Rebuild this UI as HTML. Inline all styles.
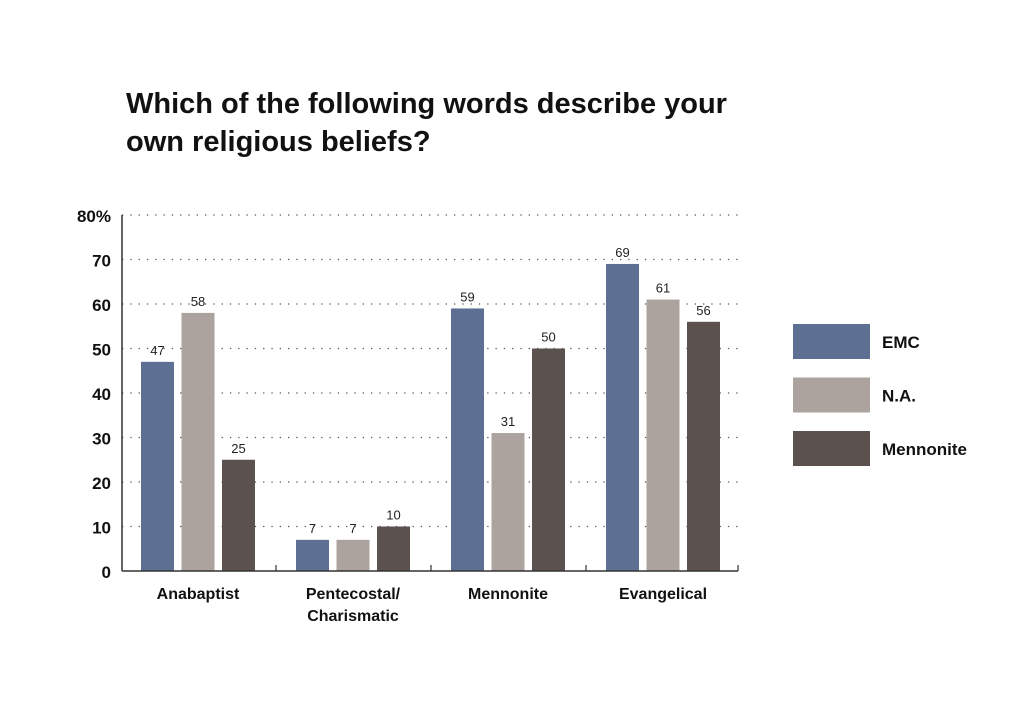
<!DOCTYPE html>
<html><head><meta charset="utf-8"><style>
body{margin:0;background:#fff;}
svg text{font-family:"Liberation Sans",sans-serif;}
</style></head><body>
<svg width="1024" height="716" viewBox="0 0 1024 716">
<text x="126" y="113" font-size="29" font-weight="bold" fill="#111">Which of the following words describe your</text>
<text x="126" y="151" font-size="29" font-weight="bold" fill="#111">own religious beliefs?</text>
<g id="grid"></g><g id="bars"></g><g id="axes"></g><g id="legend"></g>
</svg>
<script>
const categories=["Anabaptist","Pentecostal/|Charismatic","Mennonite","Evangelical"];
const seriesNames=["EMC","N.A.","Mennonite"];
const emc=[47,7,59,69];
const na=[58,7,31,61];
const menn=[25,10,50,56];
const yTicks=[0,10,20,30,40,50,60,70,80];
const colors=["#5e6f94","#aca39e","#5b5250"];
const NS="http://www.w3.org/2000/svg";
const x0=122,x1=738,y0=571,yTop=215,yMax=80;
const yS=v=>y0-(v/yMax)*(y0-yTop);
const groupW=155,barW=33,barStep=40.5,firstBar=141;
function mk(t,a,p){const e=document.createElementNS(NS,t);for(const k in a)e.setAttribute(k,a[k]);p.appendChild(e);return e;}
const grid=document.getElementById('grid'),bars=document.getElementById('bars'),axes=document.getElementById('axes'),leg=document.getElementById('legend');
yTicks.forEach(v=>{
 if(v>0){const l=mk('line',{x1:x0,x2:x1,y1:yS(v),y2:yS(v),stroke:'#555','stroke-width':1.3,'stroke-dasharray':'1.3 7'},grid);
 
 }
 const t=mk('text',{x:111,y:yS(v)+7,'font-size':17,'font-weight':'bold','text-anchor':'end',fill:'#111'},axes);
 t.textContent=v===80?'80%':String(v);
 
 
});
const series=[emc,na,menn];
categories.forEach((c,i)=>{
 series.forEach((s,j)=>{
  const x=firstBar+i*groupW+j*barStep,y=yS(s[i]);
  const r=mk('rect',{x:x,y:y,width:barW,height:y0-y,fill:colors[j]},bars);
  
  
  const t=mk('text',{x:x+barW/2,y:y-7,'font-size':13,'text-anchor':'middle',fill:'#222'},bars);
  t.textContent=s[i];
  
  
 });
 const cx=firstBar+i*groupW+barStep+barW/2;
 c.split('|').forEach((ln,k)=>{
  const t=mk('text',{x:cx,y:599+k*22,'font-size':16,'font-weight':'bold','text-anchor':'middle',fill:'#111'},axes);
  t.textContent=ln;
  
  
 });
 if(i>0){const tk=mk('line',{x1:x0+i*groupW-1,x2:x0+i*groupW-1,y1:y0-6,y2:y0,stroke:'#333','stroke-width':1.2},axes);
 
 }
});
const ya=mk('line',{x1:x0,x2:x0,y1:yTop,y2:y0,stroke:'#333','stroke-width':1.5},axes);


const xa=mk('line',{x1:x0,x2:x1,y1:y0,y2:y0,stroke:'#333','stroke-width':1.5},axes);


const xe=mk('line',{x1:x1,x2:x1,y1:y0-6,y2:y0,stroke:'#333','stroke-width':1.2},axes);


seriesNames.forEach((n,j)=>{
 const y=324+j*53.5;
 const r=mk('rect',{x:793,y:y,width:77,height:35,fill:colors[j]},leg);
 
 
 const t=mk('text',{x:882,y:y+24,'font-size':17,'font-weight':'bold',fill:'#111'},leg);
 t.textContent=n;
 
 
});
</script>
</body></html>
